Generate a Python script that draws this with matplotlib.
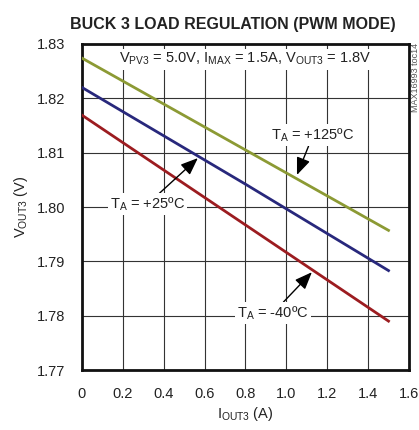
import matplotlib
matplotlib.use("Agg")
import matplotlib.pyplot as plt
from matplotlib import font_manager

names = {f.name for f in font_manager.fontManager.ttflist}
narrow = "Liberation Sans Narrow" if "Liberation Sans Narrow" in names else "Liberation Sans"
plt.rcParams['font.family'] = [narrow, 'DejaVu Sans']
plt.rcParams['mathtext.default'] = 'regular'

# data
current = [0.0, 0.8, 1.5]
v_125 = [1.8274, 1.8105, 1.7957]
v_25 = [1.8220, 1.8042, 1.7883]
v_m40 = [1.8169, 1.7967, 1.7790]
x_ticks = [0, 0.2, 0.4, 0.6, 0.8, 1.0, 1.2, 1.4, 1.6]
x_labels = ["0", "0.2", "0.4", "0.6", "0.8", "1.0", "1.2", "1.4", "1.6"]
y_ticks = [1.77, 1.78, 1.79, 1.80, 1.81, 1.82, 1.83]
y_labels = ["1.77", "1.78", "1.79", "1.80", "1.81", "1.82", "1.83"]

fig = plt.figure(figsize=(4.19, 4.30), dpi=100)
ax = fig.add_axes([0.1957, 0.1395, 0.7803, 0.7582])

ax.plot(current, v_125, color="#8c9a34", lw=2.0, zorder=3)
ax.plot(current, v_25, color="#28287c", lw=2.0, zorder=3)
ax.plot(current, v_m40, color="#9c1c20", lw=2.0, zorder=3)

ax.set_xlim(0, 1.6)
ax.set_ylim(1.77, 1.83)
ax.set_xticks(x_ticks)
ax.set_xticklabels(x_labels)
ax.set_yticks(y_ticks)
ax.set_yticklabels(y_labels)
ax.tick_params(axis="x", length=0, labelsize=10.5, colors="#222222", pad=12)
ax.tick_params(axis="y", length=0, labelsize=10.5, colors="#222222", pad=12)
ax.grid(True, color="#333333", lw=0.8, zorder=1)
for s in ax.spines.values():
    s.set_linewidth(2.0)
    s.set_color("#111111")

ax.set_xlabel(r"$I_{OUT3}$ (A)", fontsize=10.5, color="#222222", labelpad=3)
ax.set_ylabel(r"$V_{OUT3}$ (V)", fontsize=10.5, color="#222222", labelpad=5)

fig.text(70 / 419, 0.942, "BUCK 3 LOAD REGULATION (PWM MODE)", ha="left", va="center",
         fontsize=11.5, fontweight="bold", color="#222222")

bbox = dict(boxstyle="square,pad=0.15", fc="white", ec="none")
ax.text(0.8, 1.8272, r"$V_{PV3}$ = 5.0V, $I_{MAX}$ = 1.5A, $V_{OUT3}$ = 1.8V",
        ha="center", va="center", fontsize=10.5, color="#222222", bbox=bbox, zorder=4)

arrowprops = dict(arrowstyle="-|>,head_length=1.0,head_width=0.4", color="black", lw=1.0,
                  shrinkA=0, shrinkB=0)
ax.annotate(r"$T_A$ = +125ºC", xy=(1.052, 1.8059), xytext=(1.13, 1.8132),
            ha="center", va="center", fontsize=10.5, color="#222222", bbox=bbox,
            arrowprops=arrowprops, zorder=4)
ax.annotate(r"$T_A$ = +25ºC", xy=(0.567, 1.8090), xytext=(0.32, 1.8005),
            ha="center", va="center", fontsize=10.5, color="#222222", bbox=bbox,
            arrowprops=arrowprops, zorder=4)
ax.annotate(r"$T_A$ = -40ºC", xy=(1.125, 1.7880), xytext=(0.935, 1.7805),
            ha="center", va="center", fontsize=10.5, color="#222222", bbox=bbox,
            arrowprops=arrowprops, zorder=4)

fig.text(0.991, 0.82, "MAX16993 toc14", rotation=90, ha="center", va="center",
         fontsize=6.5, color="#555555")

fig.savefig("out.png", dpi=100)
